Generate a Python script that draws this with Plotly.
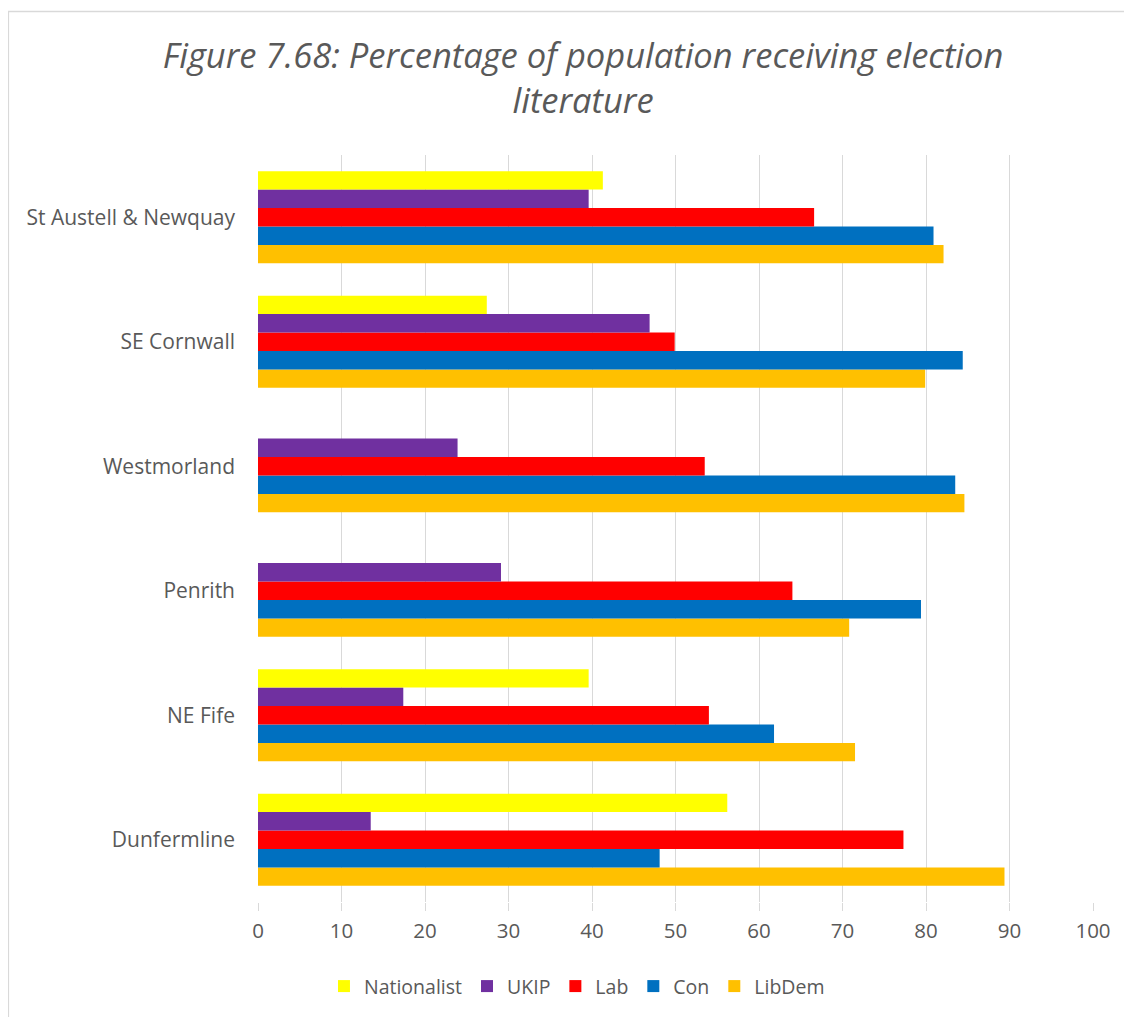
import plotly.graph_objects as go

constituencies = ["Dunfermline", "NE Fife", "Penrith", "Westmorland", "SE Cornwall", "St Austell & Newquay"]
nationalist = [56.2, 39.6, None, None, 27.4, 41.3]
ukip = [13.5, 17.4, 29.1, 23.9, 46.9, 39.6]
lab = [77.3, 54.0, 64.0, 53.5, 49.9, 66.6]
con = [48.1, 61.8, 79.4, 83.5, 84.4, 80.9]
libdem = [89.4, 71.5, 70.8, 84.6, 79.9, 82.1]
x_ticks = [0, 10, 20, 30, 40, 50, 60, 70, 80, 90, 100]

series = [
    ("LibDem", libdem, "#FFC000"),
    ("Con", con, "#0070C0"),
    ("Lab", lab, "#FF0000"),
    ("UKIP", ukip, "#7030A0"),
    ("Nationalist", nationalist, "#FFFF00"),
]

fig = go.Figure()
for name, vals, color in series:
    fig.add_trace(go.Bar(
        name=name, y=constituencies, x=vals, orientation="h",
        marker=dict(color=color, line=dict(width=0)),
    ))

fig.update_layout(
    width=1132, height=1017,
    paper_bgcolor="white", plot_bgcolor="white",
    margin=dict(l=250, r=47, t=147, b=123),
    barmode="group", bargap=0.26, bargroupgap=0,
    title=dict(
        text="Figure 7.68: Percentage of population receiving election<br>literature",
        x=0.508, xanchor="center", y=0.941, yanchor="middle",
        font=dict(family="Open Sans", size=34.5, color="#595959", style="italic"),
    ),
    xaxis=dict(
        range=[0, 100], tickvals=x_ticks, showgrid=True, gridcolor="#d9d9d9", gridwidth=1.3,
        zeroline=False, showline=False, ticks="outside", ticklen=8, tickcolor="#d9d9d9",
        tickwidth=1.3, ticklabelstandoff=2, automargin=False,
        tickfont=dict(family="Open Sans", size=20.5, color="#595959"),
    ),
    yaxis=dict(
        categoryorder="array", categoryarray=constituencies,
        showgrid=False, zeroline=False, showline=False, ticks="", ticklen=0,
        ticklabelstandoff=22, automargin=False,
        tickfont=dict(family="Open Sans", size=21, color="#595959"),
    ),
    legend=dict(
        orientation="h", traceorder="reversed", x=0.382, xanchor="center", y=-0.113, yanchor="middle",
        font=dict(family="Open Sans", size=19.5, color="#595959"),
        itemwidth=30,
    ),
    shapes=[dict(type="rect", xref="paper", yref="paper",
                 x0=-0.299, x1=1.2, y0=-0.3, y1=1.192,
                 line=dict(color="#d9d9d9", width=1.5), fillcolor="rgba(0,0,0,0)")],
)

fig.write_html("out.html")
